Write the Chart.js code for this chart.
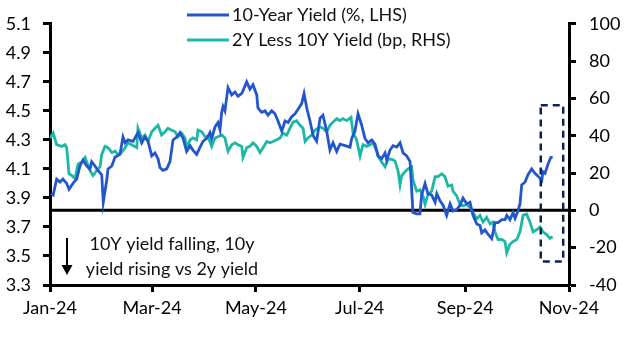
<!DOCTYPE html>
<html lang="en">
<head>
  <meta charset="UTF-8">
  <title>10-Year Yield vs 2Y Less 10Y</title>
  <script src="https://cdn.jsdelivr.net/npm/chart.js"></script>
  <style>
    body { margin: 0; background: #fff; }
    #wrap { width: 636px; height: 343px; position: relative; }
  </style>
</head>
<body>
  <div id="wrap"><canvas id="yieldChart"></canvas></div>
  <script>
    // x values are days since 1 Jan 2024
    const monthTicks = [0, 60, 121, 182, 244, 305];
    const monthLabels = ['Jan-24', 'Mar-24', 'May-24', 'Jul-24', 'Sep-24', 'Nov-24'];
    const leftTicks = [3.3, 3.5, 3.7, 3.9, 4.1, 4.3, 4.5, 4.7, 4.9, 5.1];
    const rightTicks = [-40, -20, 0, 20, 40, 60, 80, 100];

    const tenYearDays = [0.6, 1.9, 3.9, 5.9, 7.6, 9.8, 11.2, 13.5, 15.7, 17.6, 19.4, 21.6, 23.5, 24.5, 26.4, 28.2, 30.4, 31.3, 33.3, 34.1,
      36.3, 38.2, 41.1, 42.9, 44.1, 45.8, 48.8, 51.7, 53.9, 55.8, 57.6, 59.8, 61.7, 63.5, 64.6, 66.4, 68.6, 70.5, 72.3, 74.5,
      76.4, 78.2, 80.3, 82.3, 84.0, 86.2, 88.2, 89.9, 92.1, 94.0, 95.0, 97.0, 98.7, 99.9, 100.9, 101.7, 102.8, 104.6, 106.8, 108.7,
      110.5, 112.7, 115.6, 117.5, 119.3, 121.5, 122.2, 124.4, 126.4, 128.1, 130.3, 132.2, 134.0, 136.2, 138.1, 139.9, 142.0, 144.0, 145.7, 147.9,
      149.3, 150.9, 152.8, 154.6, 156.7, 158.7, 160.4, 162.6, 164.5, 166.3, 168.5, 170.4, 173.4, 176.3, 177.3, 179.2, 181.0, 183.2, 185.1, 186.9,
      189.1, 191.0, 192.8, 194.9, 196.9, 197.9, 199.8, 201.6, 203.7, 205.7, 207.5, 209.6, 211.6, 213.3, 215.5, 217.4, 218.4, 220.4, 222.1, 224.3,
      226.3, 227.3, 229.2, 231.0, 233.1, 235.1, 236.8, 239.0, 241.0, 242.7, 244.9, 246.8, 248.6, 250.8, 252.7, 253.7, 255.6, 257.4, 259.6, 261.5,
      263.3, 265.5, 267.4, 268.4, 270.3, 272.1, 273.3, 275.0, 276.2, 277.2, 279.2, 280.9, 283.1, 285.0, 286.8, 289.0, 289.7, 290.9, 292.6, 294.3,
      295.4];
    const tenYearYield = [3.93, 3.92, 4.03, 4.01, 4.03, 4.00, 3.96, 4.00, 4.03, 4.12, 4.16, 4.12, 4.10, 4.15, 4.12, 4.09, 4.06, 3.87, 4.02, 4.10,
      4.12, 4.18, 4.20, 4.32, 4.28, 4.30, 4.29, 4.35, 4.28, 4.32, 4.29, 4.19, 4.21, 4.17, 4.11, 4.09, 4.10, 4.15, 4.30, 4.32,
      4.35, 4.31, 4.22, 4.26, 4.23, 4.20, 4.25, 4.29, 4.31, 4.35, 4.31, 4.39, 4.42, 4.37, 4.49, 4.53, 4.50, 4.66, 4.61, 4.63,
      4.60, 4.62, 4.70, 4.65, 4.68, 4.61, 4.52, 4.49, 4.50, 4.47, 4.50, 4.48, 4.43, 4.36, 4.43, 4.42, 4.46, 4.48, 4.51, 4.55,
      4.62, 4.52, 4.43, 4.33, 4.29, 4.45, 4.47, 4.36, 4.23, 4.28, 4.22, 4.27, 4.26, 4.25, 4.31, 4.36, 4.48, 4.40, 4.31, 4.28,
      4.30, 4.27, 4.19, 4.17, 4.21, 4.16, 4.23, 4.26, 4.25, 4.28, 4.21, 4.19, 4.15, 3.80, 3.79, 3.79, 3.92, 4.00, 3.93, 3.92,
      3.87, 3.93, 3.88, 3.85, 3.78, 3.86, 3.81, 3.82, 3.85, 3.90, 3.86, 3.87, 3.78, 3.72, 3.71, 3.66, 3.68, 3.65, 3.62, 3.73,
      3.73, 3.75, 3.75, 3.78, 3.75, 3.80, 3.76, 3.81, 3.86, 3.99, 4.01, 4.06, 4.10, 4.07, 4.05, 4.02, 4.08, 4.07, 4.13, 4.18,
      4.18];

    const spreadDays = [0, 1.9, 3.9, 6.9, 8.8, 9.8, 11.2, 12.8, 14.7, 16.5, 18.6, 20.6, 23.5, 25.3, 27.4, 29.4, 30.4, 32.3, 34.1, 36.3,
      38.2, 40.0, 42.1, 44.1, 45.8, 48.0, 51.0, 51.7, 53.9, 55.8, 57.6, 59.8, 61.7, 63.5, 65.6, 67.6, 69.3, 71.5, 73.5, 75.2,
      77.4, 79.3, 80.3, 82.3, 84.0, 86.2, 87.0, 89.2, 91.1, 92.9, 95.0, 97.0, 98.7, 100.9, 102.8, 104.6, 106.8, 108.7, 110.5, 112.7,
      113.4, 115.6, 117.5, 119.3, 121.5, 123.4, 125.2, 127.4, 129.3, 131.1, 133.2, 135.2, 136.9, 139.1, 141.0, 142.8, 145.0, 146.9, 148.7, 149.9,
      151.6, 153.8, 155.7, 158.7, 160.4, 162.6, 164.5, 166.3, 168.5, 170.4, 172.2, 174.4, 176.9, 178.1, 180.2, 182.2, 183.9, 186.1, 188.1, 189.8,
      192.0, 192.8, 194.9, 196.9, 198.6, 200.8, 202.7, 204.5, 205.7, 206.7, 208.6, 210.4, 212.6, 213.3, 215.5, 217.4, 219.2, 220.4, 222.1, 224.3,
      226.3, 228.0, 230.2, 232.1, 233.9, 236.1, 236.8, 239.0, 241.0, 242.7, 244.9, 246.8, 248.6, 250.8, 252.7, 254.5, 256.6, 258.6, 260.3, 261.5,
      263.3, 265.5, 267.4, 268.4, 270.3, 272.1, 274.3, 276.2, 278.0, 280.1, 282.1, 283.9, 286.0, 288.0, 289.7, 291.9, 293.8, 295.4];
    const spreadBp = [38.7, 41.4, 35.2, 34.3, 35.2, 33.6, 19.6, 18.7, 17.0, 24.8, 25.9, 28.4, 21.3, 18.7, 21.3, 23.3, 30.0, 34.3, 33.6, 31.0,
      31.7, 30.0, 31.0, 33.6, 36.2, 35.2, 33.6, 44.0, 38.8, 40.4, 36.9, 42.1, 44.0, 45.6, 40.4, 42.1, 44.0, 43.0, 42.1, 39.5,
      41.4, 38.8, 33.6, 37.8, 38.8, 37.8, 43.0, 42.1, 39.5, 39.5, 34.3, 38.8, 39.5, 40.4, 38.8, 31.7, 35.2, 36.2, 35.2, 34.3,
      28.4, 33.6, 34.3, 36.2, 34.3, 31.0, 33.6, 36.9, 36.2, 36.9, 37.8, 38.8, 41.4, 40.4, 44.0, 47.3, 48.1, 45.6, 44.0, 36.9,
      38.8, 40.4, 43.0, 44.7, 44.0, 42.1, 45.6, 47.3, 49.2, 48.1, 49.2, 48.1, 49.9, 41.4, 37.8, 29.1, 35.2, 34.3, 35.2, 36.2,
      31.7, 29.1, 25.9, 23.3, 27.4, 27.4, 26.5, 21.3, 13.6, 18.7, 20.7, 22.2, 23.3, 16.2, 10.3, 11.0, 7.7, 3.2, 8.4, 10.3,
      18.1, 18.1, 19.6, 18.1, 12.9, 13.6, 10.3, 7.7, 3.2, 2.5, 3.2, 1.5, -1.1, -4.6, -2.7, -6.3, -3.7, -7.2, -6.3, -11.5,
      -15.6, -15.6, -16.7, -22.7, -18.2, -16.7, -15.6, -11.5, -2.7, -2.0, -6.3, -11.5, -10.4, -8.9, -11.5, -13.0, -15.0, -14.1];

    // highlighted window (days, bp on right axis)
    const boxDays = [288.4, 301.6];
    const boxBp = [-27.4, 56.3];

    const annotationLines = ['10Y yield falling, 10y', 'yield rising vs 2y yield'];

    const blue = '#2356cc';
    const teal = '#1cb8a6';
    const fontFamily = 'Lato, "Open Sans", sans-serif';
    const fontSize = 18;

    function toPoints(xs, ys) {
      return xs.map((x, i) => ({ x: x, y: ys[i] }));
    }

    const overlay = {
      id: 'overlay',
      beforeDatasetsDraw(chart) {
        const ctx = chart.ctx;
        const area = chart.chartArea;
        const y0 = chart.scales.y1.getPixelForValue(0);
        ctx.save();
        ctx.strokeStyle = '#000';
        ctx.lineWidth = 3;
        ctx.beginPath();
        ctx.moveTo(area.left, y0);
        ctx.lineTo(area.right, y0);
        ctx.stroke();
        ctx.restore();
      },
      afterDatasetsDraw(chart) {
        const ctx = chart.ctx;
        const xs = chart.scales.x;
        const yr = chart.scales.y1;
        const x1 = xs.getPixelForValue(boxDays[0]);
        const x2 = xs.getPixelForValue(boxDays[1]);
        const yTop = yr.getPixelForValue(boxBp[1]);
        const yBot = yr.getPixelForValue(boxBp[0]);
        ctx.save();
        ctx.strokeStyle = '#0d2452';
        ctx.lineWidth = 2.5;
        ctx.setLineDash([7, 5]);
        ctx.strokeRect(x1, yTop, x2 - x1, yBot - yTop);
        ctx.restore();
      },
      afterDraw(chart) {
        const ctx = chart.ctx;
        ctx.save();
        // legend
        ctx.font = fontSize + 'px ' + fontFamily;
        ctx.textBaseline = 'middle';
        ctx.fillStyle = '#111';
        chart.data.datasets.forEach((ds, i) => {
          const y = 15 + i * 25;
          ctx.strokeStyle = ds.borderColor;
          ctx.lineWidth = 3;
          ctx.beginPath();
          ctx.moveTo(187, y);
          ctx.lineTo(229, y);
          ctx.stroke();
          ctx.fillText(ds.label, 232, y);
        });
        // annotation
        ctx.textAlign = 'center';
        ctx.fillText(annotationLines[0], 172, 244);
        ctx.fillText(annotationLines[1], 172, 269);
        // arrow
        ctx.strokeStyle = '#000';
        ctx.lineWidth = 2;
        ctx.beginPath();
        ctx.moveTo(67, 238);
        ctx.lineTo(67, 266);
        ctx.stroke();
        ctx.fillStyle = '#000';
        ctx.beginPath();
        ctx.moveTo(61.5, 265);
        ctx.lineTo(72.5, 265);
        ctx.lineTo(67, 275);
        ctx.closePath();
        ctx.fill();
        ctx.restore();
      }
    };

    const axisGrid = {
      drawOnChartArea: false,
      drawTicks: true,
      tickLength: 7,
      tickWidth: 3,
      tickColor: '#000'
    };
    const axisBorder = { display: true, color: '#000', width: 3 };
    const tickFont = { family: fontFamily, size: fontSize };

    new Chart(document.getElementById('yieldChart'), {
      type: 'line',
      data: {
        datasets: [{
          label: '10-Year Yield (%, LHS)',
          data: toPoints(tenYearDays, tenYearYield),
          yAxisID: 'y',
          borderColor: blue,
          borderWidth: 2.8,
          pointRadius: 0,
          tension: 0
        }, {
          label: '2Y Less 10Y Yield (bp, RHS)',
          data: toPoints(spreadDays, spreadBp),
          yAxisID: 'y1',
          borderColor: teal,
          borderWidth: 2.8,
          pointRadius: 0,
          tension: 0
        }]
      },
      options: {
        responsive: true,
        maintainAspectRatio: false,
        animation: false,
        layout: { padding: { top: 15, left: 0, right: 0, bottom: 0 } },
        plugins: {
          legend: { display: false },
          tooltip: { enabled: false }
        },
        scales: {
          x: {
            type: 'linear',
            min: 0,
            max: 305,
            grid: axisGrid,
            border: axisBorder,
            afterBuildTicks: (scale) => { scale.ticks = monthTicks.map(v => ({ value: v })); },
            afterFit: (scale) => { scale.height = 58; },
            ticks: {
              font: tickFont,
              color: '#000',
              padding: 5,
              maxRotation: 0,
              autoSkip: false,
              callback: (v) => monthLabels[monthTicks.indexOf(v)]
            }
          },
          y: {
            position: 'left',
            min: 3.3,
            max: 5.1,
            grid: axisGrid,
            border: axisBorder,
            afterBuildTicks: (scale) => { scale.ticks = leftTicks.map(v => ({ value: v })); },
            afterFit: (scale) => { scale.width = 50; },
            ticks: {
              font: tickFont,
              color: '#000',
              padding: 12,
              callback: (v) => Number(v).toFixed(1)
            }
          },
          y1: {
            position: 'right',
            min: -40,
            max: 100,
            grid: axisGrid,
            border: axisBorder,
            afterBuildTicks: (scale) => { scale.ticks = rightTicks.map(v => ({ value: v })); },
            afterFit: (scale) => { scale.width = 67; },
            ticks: {
              font: tickFont,
              color: '#000',
              padding: 13,
              callback: (v) => String(v)
            }
          }
        }
      },
      plugins: [overlay]
    });
  </script>
</body>
</html>
